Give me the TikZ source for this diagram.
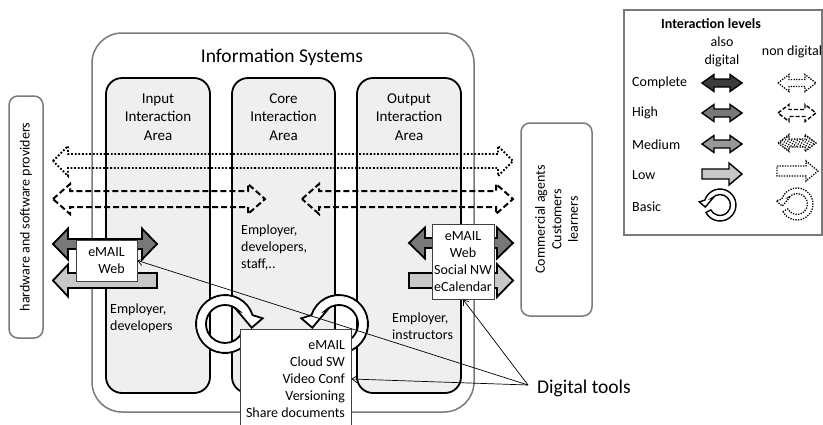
\documentclass[tikz,border=0pt]{standalone}
\usepackage{fontspec}
\setmainfont{Carlito}
\usetikzlibrary{arrows.meta,patterns.meta}
\definecolor{colfill}{HTML}{EFEFEF}
\definecolor{frame}{HTML}{7A7A7A}
\definecolor{cplt}{HTML}{3C3C3C}
\definecolor{high}{HTML}{787878}
\definecolor{med}{HTML}{989898}
\definecolor{low}{HTML}{C8C8C8}
\newcommand\dblarrow[7]{\draw[#1] (#2,#4) -- ++(#7,-#6) -- ++(0,{(#6)-(#5)}) -- ({(#3)-(#7)},{(#4)-(#5)}) -- ++(0,{(#5)-(#6)}) -- (#3,#4) -- ++(-#7,#6) -- ++(0,{(#5)-(#6)}) -- ({(#2)+(#7)},{(#4)+(#5)}) -- ++(0,{(#6)-(#5)}) -- cycle;}
\newcommand\sglarrow[7]{\draw[#1] (#2,{(#4)-(#5)}) -- ({(#3)-(#7)},{(#4)-(#5)}) -- ++(0,{(#5)-(#6)}) -- (#3,#4) -- ({(#3)-(#7)},{(#4)+(#6)}) -- ++(0,{(#5)-(#6)}) -- (#2,{(#4)+(#5)}) -- cycle;}
\newcommand\ringarrow[5]{\begin{scope}[shift={(#2,#3)},xscale=#4,scale=#5]
\draw[#1] (28:29) arc[start angle=28,end angle=342.2,radius=29] -- (37.7,-5.7) -- (26.7,3.7) -- (11.7,-14) -- (315.2:19) arc[start angle=315.2,end angle=28,radius=19] -- cycle;
\end{scope}}
\begin{document}
\begin{tikzpicture}[x=1pt,y=-1pt,
  lbl/.style={font=\fontsize{14}{17}\selectfont, inner sep=0pt},
  hdr/.style={inner sep=0pt, align=center, font=\fontsize{15}{18.5}\selectfont},
  colbox/.style={draw=black, line width=1.8pt, fill=colfill, rounded corners=16pt, minimum height=315pt},
  sidebox/.style={draw=frame, line width=1.5pt, rounded corners=9pt, rotate=90, font=\fontsize{14}{16.5}\selectfont, align=center},
  toolbox/.style={draw=black!75, fill=white, line width=0.8pt, inner sep=0pt, font=\fontsize{14}{17}\selectfont},
  nddot/.style={draw=black, line width=1.8pt, dash pattern=on 1.8pt off 1.8pt},
  nddash/.style={draw=black, line width=2pt, dash pattern=on 6pt off 3pt},
  dig/.style={draw=black, line width=1.8pt, line join=miter},
  ldig/.style={draw=black, line width=1.4pt, line join=miter},
  lnddot/.style={draw=black, line width=1.3pt, dash pattern=on 1.3pt off 1.3pt},
  lnddash/.style={draw=black, line width=1.4pt, dash pattern=on 4pt off 2pt},
  conn/.style={draw=black, line width=0.7pt, -{Straight Barb[length=5pt,width=7pt]}}
]
\useasboundingbox (0,0) rectangle (823,424);

% outer frame
\node[draw=frame, line width=1.5pt, rounded corners=30pt, minimum width=382pt, minimum height=379pt] (is) at (283,222.5) {};
\node[font=\fontsize{19.5}{22}\selectfont, inner sep=0pt] (title) at (282,57) {Information Systems};

% columns
\node[colbox, minimum width=104pt] (inp) at (158,235.5) {};
\node[colbox, minimum width=103pt] (core) at (283.5,235.5) {};
\node[colbox, minimum width=104pt] (outp) at (409,235.5) {};
\node[hdr] (inpL) at (158,117) {Input\\Interaction\\Area};
\node[hdr] (coreL) at (283.5,117) {Core\\Interaction\\Area};
\node[hdr] (outpL) at (409,117) {Output\\Interaction\\Area};
\node[lbl, align=left, anchor=north west] (inpE) at (110,304) {Employer,\\developers};
\node[lbl, align=left, anchor=north west] (coreE) at (241,225) {Employer,\\developers,\\staff,..};
\node[lbl, align=left, anchor=north west] (outpE) at (392,313) {Employer,\\instructors};

% side boxes
\node[sidebox, minimum width=242pt, minimum height=34pt] (hw) at (26,217) {hardware and software providers};
\node[sidebox, minimum width=193pt, minimum height=71pt] (cust) at (556.5,219.5) {Commercial agents\\Customers\\learners};

% non digital arrows
\dblarrow{nddot}{53}{513}{161}{7}{15}{15}
\dblarrow{nddash}{53}{265}{199}{8}{15}{17}
\dblarrow{nddash}{302}{513}{199}{8}{15}{17}

% digital arrows
\dblarrow{dig, fill=high}{53}{157}{244}{5}{15.5}{15}
\sglarrow{dig, fill=low}{157}{53}{280.5}{7.5}{16}{-15}
\dblarrow{dig, fill=high}{409}{513}{243}{5}{15.5}{16}
\sglarrow{dig, fill=low}{409}{513}{280.5}{7.5}{16.5}{16}

% tool boxes
\node[toolbox, minimum width=61pt, minimum height=41pt, align=right] (lbox) at (106.5,260.5) {eMAIL\\Web};
\node[toolbox, minimum width=62pt, minimum height=75pt, align=center] (rbox) at (463,261.5) {eMAIL\\Web\\Social NW\\eCalendar};

% basic rings
\ringarrow{dig, fill=white}{225}{324}{1}{1}
\ringarrow{dig, fill=white}{339}{324}{-1}{1}

\node[toolbox, minimum width=111pt, minimum height=100pt, align=right] (tools) at (295.5,379) {eMAIL\\Cloud SW\\Video Conf\\Versioning\\Share documents};

% connectors
\coordinate (hub) at (528,385);
\draw[conn] (hub) -- (lbox.east);
\draw[conn] (hub) -- (tools.east);
\draw[conn] (hub) -- (rbox.south);
\node[font=\fontsize{19.5}{22}\selectfont, anchor=west, inner sep=0pt] (dt) at (537,388) {Digital tools};

% legend
\node[draw=frame, line width=1.2pt, minimum width=198pt, minimum height=225pt] (leg) at (723,122.5) {};
\node[lbl, font=\bfseries\fontsize{14}{17}\selectfont] (legT) at (711,24) {Interaction levels};
\node[lbl, align=center, font=\fontsize{14}{18}\selectfont] (legA) at (722,52) {also\\digital};
\node[lbl] (legN) at (792,52) {non digital};
\node[lbl, anchor=west] (r1) at (632,83) {Complete};
\node[lbl, anchor=west] (r2) at (632,113) {High};
\node[lbl, anchor=west] (r3) at (632,145) {Medium};
\node[lbl, anchor=west] (r4) at (632,175) {Low};
\node[lbl, anchor=west] (r5) at (632,207) {Basic};

\dblarrow{ldig, fill=cplt}{702}{742}{83}{4}{8.5}{12}
\dblarrow{ldig, fill=high}{702}{742}{113}{4}{8.5}{12}
\dblarrow{ldig, fill=med}{702}{742}{144}{4}{8.5}{12}
\sglarrow{ldig, fill=low}{702}{742}{174}{5}{11}{13}
\ringarrow{ldig, fill=white}{720}{205}{-1}{0.55}

\dblarrow{lnddot}{778}{816}{83}{3.5}{8.5}{11}
\dblarrow{lnddash}{778}{816}{113}{3.5}{8.5}{11}
\dblarrow{lnddot, pattern={Lines[angle=60,distance=2.6pt,line width=1.1pt]}}{778}{816}{143}{4}{8.5}{11}
\sglarrow{lnddot}{777}{818}{171}{5}{10}{12}
\ringarrow{lnddot}{797}{204}{-1}{0.55}
\end{tikzpicture}
\end{document}
